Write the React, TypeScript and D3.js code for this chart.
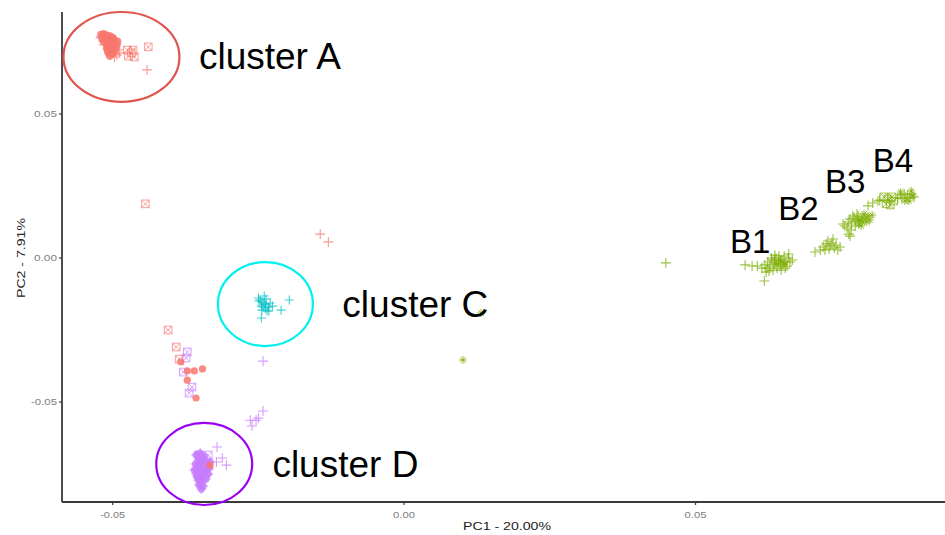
import React from "react";
import * as d3 from "d3";

type P = [number, number];

// ---- axis ticks ----
const xTicks = [-0.05, 0, 0.05];
const yTicks = [-0.05, 0, 0.05];
const xTitle = "PC1 - 20.00%";
const yTitle = "PC2 - 7.91%";

// ---- red group (#F8766D) ----
const redCirclesA: P[] = [
  [-0.052, 0.0775], [-0.0515, 0.0778], [-0.051, 0.0772], [-0.0505, 0.077], [-0.05, 0.0765],
  [-0.0512, 0.0765], [-0.0518, 0.076], [-0.0508, 0.0758], [-0.0498, 0.0758], [-0.0492, 0.0752],
  [-0.0505, 0.075], [-0.0515, 0.0752], [-0.051, 0.0745], [-0.05, 0.0745], [-0.0493, 0.074],
  [-0.0508, 0.0738], [-0.0502, 0.0732], [-0.0495, 0.073], [-0.051, 0.0728], [-0.0505, 0.0722],
  [-0.0498, 0.0718], [-0.0508, 0.0715], [-0.05, 0.071], [-0.0505, 0.0702],
];
const redPlus: P[] = [
  [-0.0515, 0.074], [-0.049, 0.0722], [-0.0493, 0.0705], [-0.0497, 0.0698], [-0.0488, 0.0712],
  [-0.052, 0.0768], [-0.0441, 0.0653], [-0.0144, 0.0083], [-0.013, 0.0056],
];
const redSquareX: P[] = [
  [-0.0475, 0.0722], [-0.0465, 0.0722], [-0.0473, 0.0701], [-0.0463, 0.0698], [-0.0468, 0.0712],
  [-0.0439, 0.0733], [-0.0444, 0.0188], [-0.0405, -0.025], [-0.0391, -0.0309], [-0.0386, -0.0351],
];
const redCirclesMid: P[] = [
  [-0.0383, -0.0361], [-0.0372, -0.0392], [-0.036, -0.0392], [-0.0346, -0.0385],
  [-0.0372, -0.0424], [-0.0357, -0.0486], [-0.0333, -0.0719],
];

// ---- purple group (#C77CFF) ----
const purplePlus: P[] = [
  [-0.0521, 0.0764], [-0.0504, 0.0705],
  [-0.0242, -0.0358], [-0.0242, -0.0531], [-0.0254, -0.0563], [-0.0264, -0.0563], [-0.0261, -0.0583], [-0.025, -0.0556],
  [-0.0321, -0.0656], [-0.0312, -0.0694], [-0.0305, -0.0719], [-0.0322, -0.0708],
];
const purpleSquareX: P[] = [
  [-0.0372, -0.0326], [-0.0374, -0.0347], [-0.0379, -0.0396], [-0.0364, -0.0448], [-0.0369, -0.0469],
  [-0.0352, -0.0684], [-0.0336, -0.0684],
];
const purpleBlobD: P[] = [
  [-0.0357, -0.0684], [-0.035, -0.0677], [-0.0343, -0.0688], [-0.0353, -0.0701], [-0.0346, -0.0698],
  [-0.034, -0.0705], [-0.0358, -0.0715], [-0.0352, -0.0719], [-0.0345, -0.0715], [-0.0338, -0.0722],
  [-0.0355, -0.0733], [-0.0348, -0.0736], [-0.0341, -0.074], [-0.0334, -0.0729], [-0.0357, -0.075],
  [-0.035, -0.0757], [-0.0343, -0.0753], [-0.0353, -0.0771], [-0.0346, -0.0774], [-0.034, -0.0767],
  [-0.0352, -0.0788], [-0.0345, -0.0792], [-0.0348, -0.0802], [-0.036, -0.0736], [-0.0336, -0.075],
  [-0.0333, -0.0708], [-0.0355, -0.076],
];

// ---- cyan group (#00BFC4) ----
const cyanPlus: P[] = [
  [-0.025, -0.0139], [-0.0247, -0.0146], [-0.0244, -0.0153], [-0.024, -0.016], [-0.0245, -0.0167],
  [-0.0242, -0.017], [-0.0237, -0.016], [-0.0233, -0.017], [-0.0238, -0.0177], [-0.0235, -0.0184],
  [-0.0244, -0.0181], [-0.023, -0.0156], [-0.0249, -0.0149], [-0.024, -0.0132], [-0.0237, -0.0142],
  [-0.0232, -0.0184], [-0.0226, -0.0167], [-0.0211, -0.0181], [-0.0197, -0.0146], [-0.0245, -0.0208],
];

// ---- green group (#7CAE00) ----
const greenPlus: P[] = [
  // B1
  [0.0585, -0.0024], [0.0597, -0.0028], [0.0606, -0.0028], [0.0618, -0.008], [0.0614, -0.0035],
  [0.0619, -0.0024], [0.0624, -0.0014], [0.0628, -0.0028], [0.0631, -0.0007], [0.0635, -0.0021],
  [0.0638, 0.0], [0.0642, -0.0014], [0.0645, -0.0028], [0.0648, -0.0007], [0.0652, 0.0007],
  [0.0655, -0.0014], [0.0659, 0.0], [0.0662, -0.0014], [0.0633, -0.0042], [0.064, -0.0035],
  [0.0647, -0.0042], [0.0626, -0.0045], [0.0636, 0.001], [0.0643, 0.0007], [0.065, -0.0021],
  [0.0657, -0.0028], [0.063, 0.0], [0.0623, -0.0035], [0.0654, -0.0035], [0.066, 0.0014],
  [0.0621, -0.0049], [0.0666, -0.0007], [0.0645, -0.0014], [0.0635, -0.0007],
  // B2
  [0.0705, 0.0021], [0.0714, 0.0028], [0.0719, 0.0038], [0.0724, 0.0049], [0.0727, 0.0059],
  [0.0731, 0.0042], [0.0734, 0.0052], [0.0738, 0.0035], [0.0741, 0.0045], [0.0744, 0.0028],
  [0.0729, 0.0031], [0.0722, 0.0028], [0.0736, 0.0066], [0.0748, 0.0038],
  // B3
  [0.0753, 0.0118], [0.0756, 0.0111], [0.076, 0.0104], [0.0762, 0.0125], [0.0763, 0.0083],
  [0.0765, 0.0135], [0.0767, 0.0097], [0.0768, 0.0118], [0.0765, 0.0076], [0.077, 0.0146],
  [0.0772, 0.0139], [0.0774, 0.0111], [0.0775, 0.0128], [0.0777, 0.0153], [0.0779, 0.0146],
  // B4
  [0.0796, 0.0181], [0.0804, 0.0191], [0.0813, 0.0198], [0.0816, 0.0201],
  [0.0847, 0.0208], [0.0851, 0.0219], [0.0854, 0.0208], [0.0858, 0.0222],
  [0.0861, 0.0212], [0.0864, 0.0219], [0.0868, 0.0208], [0.0871, 0.0222], [0.0875, 0.0212],
  // isolated
  [0.0449, -0.0017],
];
const greenAsterisk: P[] = [
  // B3
  [0.078, 0.0118], [0.0782, 0.0132], [0.0784, 0.0111], [0.0786, 0.0139], [0.0787, 0.0125],
  [0.0789, 0.0153], [0.0792, 0.0139], [0.0794, 0.0125], [0.0796, 0.0146], [0.0799, 0.0132],
  [0.0803, 0.0149], [0.0779, 0.0132],
  // B4
  [0.0852, 0.0229], [0.0859, 0.0198], [0.0866, 0.0198], [0.087, 0.0233], [0.0873, 0.0215],
  // B1
  [0.0638, -0.0021], [0.0646, -0.0007], [0.0652, -0.0021],
  // isolated
  [0.0101, -0.0354], [0.0132, -0.0191],
];
const greenSquareX: P[] = [
  [0.0823, 0.0212], [0.083, 0.0205], [0.0837, 0.0212], [0.0827, 0.0188], [0.0834, 0.0184], [0.084, 0.0198],
];

// ---- annotations (data coords centre, data radii) ----
const ellipseCx = [-0.0485, -0.0238, -0.0343];
const ellipseCy = [0.0698, -0.016, -0.0715];
const ellipseRx = [0.00995, 0.00815, 0.00823];
const ellipseRy = [0.0156, 0.01458, 0.01424];
const ellipseColors = ["#e0564f", "#00f0f0", "#9b00f5"];

const labelText = ["cluster A", "cluster C", "cluster D", "B1", "B2", "B3", "B4"];
const labelX = [-0.0352, -0.0106, -0.0226, 0.0559, 0.0642, 0.0722, 0.0804];
const labelY = [0.0656, -0.0205, -0.076, 0.0017, 0.0132, 0.0226, 0.0299];
const labelSize = [37, 37, 37, 33, 33, 33, 33];

const RED = "#F8766D";
const GREEN = "#7CAE00";
const CYAN = "#00BFC4";
const PURPLE = "#C77CFF";

const W = 945;
const H = 535;
const left = 62, right = 945, top = 12, bottom = 502;

export default function App() {
  const x = d3.scaleLinear().domain([-0.0587, 0.0928]).range([left, right]);
  const y = d3.scaleLinear().domain([-0.0847, 0.0854]).range([bottom, top]);
  const kx = x(1) - x(0);
  const ky = y(0) - y(1);

  const plus = (pts: P[], color: string, key: string, s = 5) =>
    pts.map((p, i) => {
      const cx = x(p[0]), cy = y(p[1]);
      return (
        <path key={key + i} d={`M${cx - s},${cy}H${cx + s}M${cx},${cy - s}V${cy + s}`}
          stroke={color} strokeWidth={1.1} fill="none" opacity={0.75} />
      );
    });
  const asterisk = (pts: P[], color: string, key: string, s = 4) =>
    pts.map((p, i) => {
      const cx = x(p[0]), cy = y(p[1]);
      const d = s * 0.71;
      return (
        <path key={key + i}
          d={`M${cx - s},${cy}H${cx + s}M${cx},${cy - s}V${cy + s}M${cx - d},${cy - d}L${cx + d},${cy + d}M${cx - d},${cy + d}L${cx + d},${cy - d}`}
          stroke={color} strokeWidth={1} fill="none" opacity={0.8} />
      );
    });
  const circles = (pts: P[], color: string, key: string, r = 3.6) =>
    pts.map((p, i) => (
      <circle key={key + i} cx={x(p[0])} cy={y(p[1])} r={r} fill={color} opacity={0.85} />
    ));
  const squareX = (pts: P[], color: string, key: string, s = 3.8) =>
    pts.map((p, i) => {
      const cx = x(p[0]), cy = y(p[1]);
      return (
        <g key={key + i} opacity={0.7} stroke={color} strokeWidth={1} fill="none">
          <rect x={cx - s} y={cy - s} width={2 * s} height={2 * s} />
          <path d={`M${cx - s},${cy - s}L${cx + s},${cy + s}M${cx - s},${cy + s}L${cx + s},${cy - s}`} />
        </g>
      );
    });

  return (
    <svg width={W} height={H} style={{ position: "absolute", left: 0, top: 0, background: "#fff" }}
      fontFamily="'Liberation Sans', Arial, sans-serif">
      <rect width={W} height={H} fill="#fff" />
      {/* axes */}
      <line x1={left} x2={left} y1={top} y2={bottom} stroke="#3a3a3a" strokeWidth={1.8} />
      <line x1={left} x2={right} y1={bottom} y2={bottom} stroke="#3a3a3a" strokeWidth={1.8} />
      {xTicks.map((t) => (
        <g key={"xt" + t}>
          <line x1={x(t)} x2={x(t)} y1={bottom} y2={bottom + 3} stroke="#3a3a3a" strokeWidth={1.2} />
          <text x={x(t)} y={bottom + 16} fontSize={8.5} fill="#808080" textAnchor="middle"
            textLength={t < 0 ? 25 : 22} lengthAdjust="spacingAndGlyphs">{d3.format(".2f")(t).replace("−", "-")}</text>
        </g>
      ))}
      {yTicks.map((t) => (
        <g key={"yt" + t}>
          <line x1={left - 3} x2={left} y1={y(t)} y2={y(t)} stroke="#3a3a3a" strokeWidth={1.2} />
          <text x={left - 5} y={y(t) + 3} fontSize={8.5} fill="#808080" textAnchor="end"
            textLength={t < 0 ? 26 : 23} lengthAdjust="spacingAndGlyphs">{d3.format(".2f")(t).replace("−", "-")}</text>
        </g>
      ))}
      <text x={507} y={530} fontSize={11.5} fill="#222" textAnchor="middle"
        textLength={88} lengthAdjust="spacingAndGlyphs">{xTitle}</text>
      <text transform={`translate(25,${y(0)}) rotate(-90)`} fontSize={11.5} fill="#222" textAnchor="middle"
        textLength={80} lengthAdjust="spacingAndGlyphs">{yTitle}</text>

      {/* points */}
      {squareX(redSquareX, RED, "rsx")}
      {squareX(purpleSquareX, PURPLE, "psx")}
      {squareX(greenSquareX, GREEN, "gsx")}
      {plus(purplePlus, PURPLE, "pp")}
      {circles(purpleBlobD, PURPLE, "pbd", 3.6)}
      {plus(purpleBlobD, PURPLE, "pbdp")}
      {circles(redCirclesA, RED, "rca", 4)}
      {plus(redPlus, RED, "rp")}
      {circles(redCirclesMid, RED, "rcm", 3.6)}
      {plus(cyanPlus, CYAN, "cp", 4.5)}
      {plus(greenPlus, GREEN, "gp")}
      {asterisk(greenAsterisk, GREEN, "ga")}

      {/* annotations */}
      {ellipseCx.map((c, i) => (
        <ellipse key={"el" + i} cx={x(c)} cy={y(ellipseCy[i])} rx={ellipseRx[i] * kx} ry={ellipseRy[i] * ky}
          fill="none" stroke={ellipseColors[i]} strokeWidth={2.2} />
      ))}
      {labelText.map((t, i) => (
        <text key={"lb" + i} x={x(labelX[i])} y={y(labelY[i])} fontSize={labelSize[i]} fill="#000">{t}</text>
      ))}
    </svg>
  );
}
